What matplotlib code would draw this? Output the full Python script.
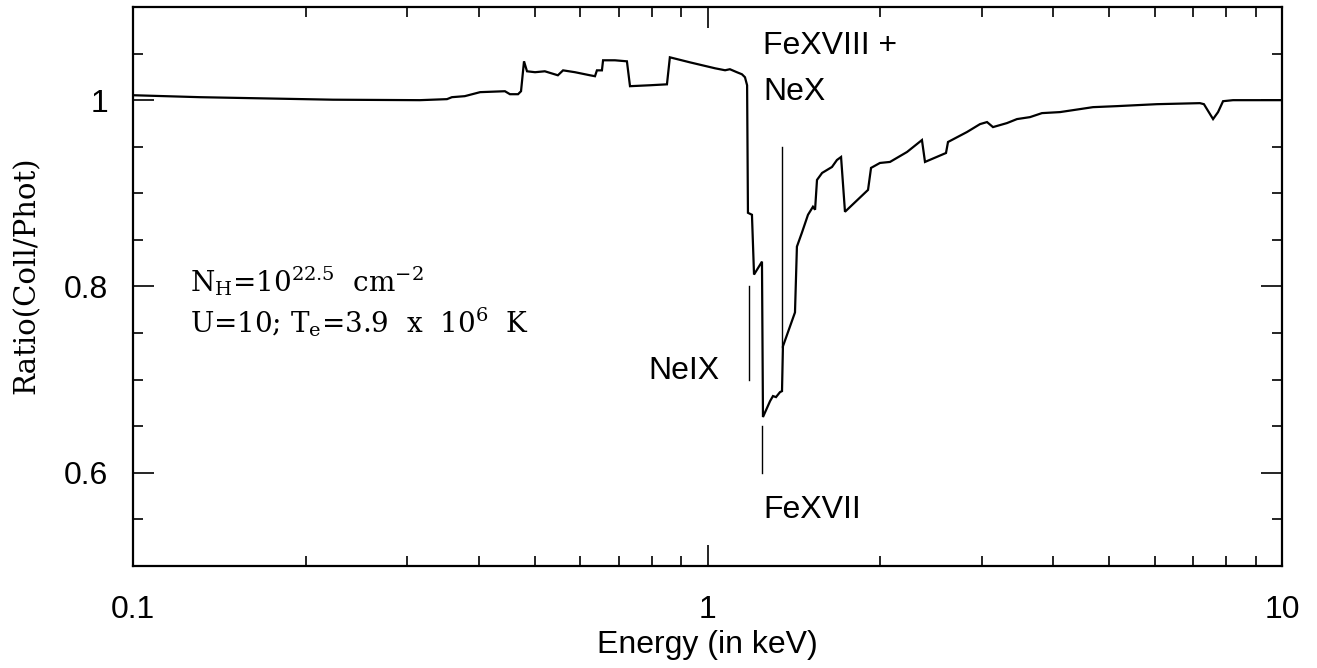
import matplotlib
matplotlib.use("Agg")
import matplotlib.pyplot as plt
from matplotlib import font_manager
from matplotlib.ticker import FixedLocator, NullFormatter, FixedFormatter, LogLocator

# ---------------- data ----------------
energy_kev = [0.100, 0.1308, 0.2229, 0.3158, 0.352, 0.359, 0.378, 0.402, 0.444, 0.453,
              0.468, 0.4736, 0.4793, 0.4851, 0.501, 0.521, 0.549, 0.5605, 0.588, 0.6245,
              0.637, 0.642, 0.655, 0.658, 0.690, 0.724, 0.733, 0.794, 0.850, 0.860,
              0.932, 1.031, 1.073, 1.094, 1.125, 1.148, 1.162, 1.172, 1.176, 1.195,
              1.205, 1.244, 1.249, 1.285, 1.300, 1.316, 1.337, 1.348, 1.353, 1.420,
              1.431, 1.460, 1.496, 1.526, 1.539, 1.551, 1.583, 1.647, 1.680, 1.708,
              1.735, 1.903, 1.926, 1.996, 2.078, 2.225, 2.362, 2.391, 2.601, 2.622,
              2.829, 2.981, 3.066, 3.140, 3.321, 3.457, 3.642, 3.821, 4.108, 4.688,
              5.162, 6.059, 7.197, 7.313, 7.586, 7.739, 7.896, 8.218, 10.0]
ratio = [1.0053, 1.0032, 1.0005, 1.0000, 1.0011, 1.0032, 1.0043, 1.0086, 1.0096, 1.0064,
         1.0064, 1.0096, 1.0417, 1.0310, 1.0300, 1.0310, 1.0267, 1.0320, 1.0300, 1.0267,
         1.0257, 1.0320, 1.0320, 1.0428, 1.0428, 1.0417, 1.0150, 1.0160, 1.0170, 1.0460,
         1.0406, 1.0342, 1.0321, 1.0332, 1.0300, 1.0278, 1.0246, 1.0160, 0.8791, 0.8770,
         0.8128, 0.8267, 0.6599, 0.6770, 0.6824, 0.6813, 0.6866, 0.6877, 0.7358, 0.7722,
         0.8428, 0.8578, 0.8770, 0.8856, 0.8824, 0.9144, 0.9219, 0.9283, 0.9358, 0.9390,
         0.8802, 0.9037, 0.9273, 0.9326, 0.9337, 0.9444, 0.9572, 0.9337, 0.9433, 0.9551,
         0.9658, 0.9743, 0.9765, 0.9711, 0.9754, 0.9797, 0.9818, 0.9861, 0.9872, 0.9925,
         0.9936, 0.9957, 0.9968, 0.9957, 0.9797, 0.9872, 0.9989, 1.0000, 1.0000]

line_names = ["NeIX", "FeXVII", "FeXVIII + NeX"]
line_energy = [1.181, 1.244, 1.348]
line_ymin = [0.700, 0.600, 0.735]
line_ymax = [0.800, 0.650, 0.950]

x_ticks = [0.1, 1, 10]
x_tick_labels = ["0.1", "1", "10"]
y_ticks = [0.6, 0.8, 1.0]
y_tick_labels = ["0.6", "0.8", "1"]

# ---------------- fonts ----------------
available = {f.name for f in font_manager.fontManager.ttflist}
sans = "Liberation Sans" if "Liberation Sans" in available else "DejaVu Sans"
serif = "DejaVu Serif"

plt.rcParams["font.family"] = [sans, "DejaVu Sans"]
plt.rcParams["mathtext.fontset"] = "dejavuserif"

fig = plt.figure(figsize=(13.17, 6.68), dpi=100)
ax = fig.add_axes([133 / 1317, 1 - 566 / 668, (1282 - 133) / 1317, (566 - 7) / 668])

ax.plot(energy_kev, ratio, color="black", lw=1.6, solid_joinstyle="miter")
for e, y0, y1 in zip(line_energy, line_ymin, line_ymax):
    ax.plot([e, e], [y0, y1], color="black", lw=1.0)

ax.set_xscale("log")
ax.set_xlim(0.1, 10)
ax.set_ylim(0.5, 1.1)

ax.xaxis.set_major_locator(FixedLocator(x_ticks))
ax.xaxis.set_major_formatter(FixedFormatter(x_tick_labels))
ax.xaxis.set_minor_locator(LogLocator(base=10, subs=range(2, 10)))
ax.xaxis.set_minor_formatter(NullFormatter())
ax.yaxis.set_major_locator(FixedLocator(y_ticks))
ax.yaxis.set_major_formatter(FixedFormatter(y_tick_labels))
ax.yaxis.set_minor_locator(FixedLocator([0.55, 0.65, 0.7, 0.75, 0.85, 0.9, 0.95, 1.05]))

ax.tick_params(which="both", direction="in", top=True, right=True, width=1.2, colors="black")
ax.tick_params(which="major", length=15)
ax.tick_params(which="minor", length=7.5)
ax.tick_params(axis="x", which="major", pad=21, labelsize=23)
ax.tick_params(axis="y", which="major", pad=18, labelsize=23)
for s in ax.spines.values():
    s.set_linewidth(1.6)

ax.set_xlabel("Energy (in keV)", fontsize=23)
ax.xaxis.set_label_coords(0.5, -0.115)
ax.set_ylabel("Ratio(Coll/Phot)", fontsize=21, family=serif)
ax.yaxis.set_label_coords(-0.080, 0.52)

# line identifications
ax.text(1.249, 1.050, "FeXVIII +", fontsize=23, ha="left", va="baseline")
ax.text(1.249, 1.000, "NeX", fontsize=23, ha="left", va="baseline")
ax.text(0.788, 0.7005, "NeIX", fontsize=23, ha="left", va="baseline")
ax.text(1.249, 0.551, "FeXVII", fontsize=23, ha="left", va="baseline")

# model parameters
ax.text(0.1257, 0.795, r"N$_\mathregular{H}$=10$^\mathregular{22.5}$  cm$^\mathregular{-2}$",
        fontsize=20, family=serif, ha="left", va="baseline")
ax.text(0.1257, 0.751, r"U=10; T$_\mathregular{e}$=3.9  x  10$^\mathregular{6}$  K",
        fontsize=20, family=serif, ha="left", va="baseline")

fig.savefig("out.png", dpi=100)
